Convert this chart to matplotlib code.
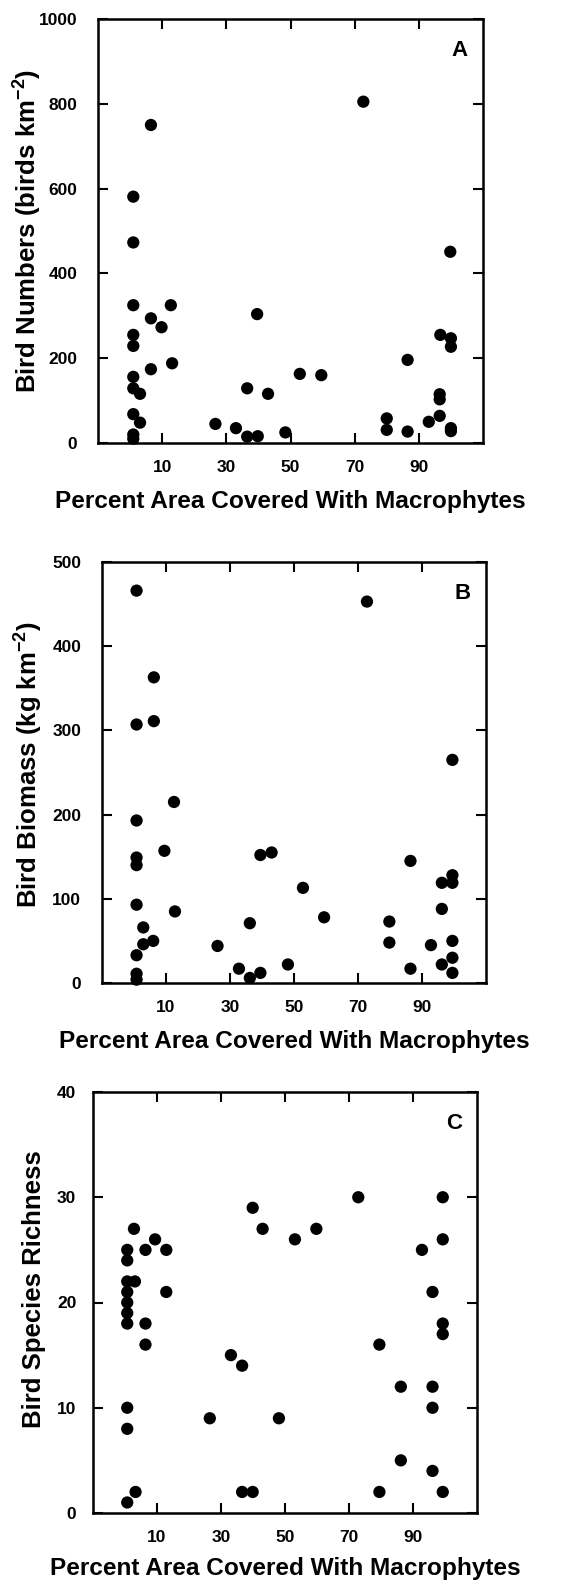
import matplotlib
matplotlib.use("Agg")
import matplotlib.pyplot as plt

plt.rcParams['font.family'] = ['Liberation Sans', 'DejaVu Sans']
plt.rcParams['font.weight'] = 'bold'
plt.rcParams['mathtext.fontset'] = 'custom'
plt.rcParams['mathtext.rm'] = 'Liberation Sans:bold'
plt.rcParams['mathtext.bf'] = 'Liberation Sans:bold'
plt.rcParams['mathtext.it'] = 'Liberation Sans:bold'

# ---- data ----
xticks = [10, 30, 50, 70, 90]
xlabel = "Percent Area Covered With Macrophytes"

a_x = [6.5, 1, 1, 72.7, 99.8, 1, 12.7, 6.5, 9.8, 39.6, 1, 1, 96.7, 100, 100,
       86.5, 13.1, 6.5, 1, 52.9, 59.6, 1, 3.1, 36.5, 43, 96.5, 96.5,
       1, 3.1, 1, 1, 26.6, 33, 36.5, 39.8, 48.4, 80, 80, 86.5, 93.1, 96.5, 100, 100]
a_y = [750, 581, 473, 805, 451, 325, 325, 294, 273, 304, 255, 229, 255, 247, 227,
       196, 188, 174, 156, 163, 160, 129, 116, 129, 116, 115, 103,
       68, 48, 20, 10, 45, 35, 15, 16, 25, 58, 31, 27, 50, 64, 35, 28]
a_yticks = [0, 200, 400, 600, 800, 1000]

b_x = [0.8, 72.8, 6.2, 0.8, 6.2, 99.5, 12.5, 0.8, 0.8, 0.8, 9.5, 39.5, 43, 86.4,
       52.8, 96.2, 99.5, 99.5, 0.8, 96.2, 12.8, 59.4, 36.2, 79.8, 2.9, 2.9, 6.0,
       26.1, 79.8, 92.8, 99.5, 99.5, 0.8, 48.1, 32.8, 86.4, 96.2, 39.5, 36.2,
       0.8, 0.8, 99.5]
b_y = [466, 453, 363, 307, 311, 265, 215, 193, 149, 140, 157, 152, 155, 145,
       113, 119, 128, 119, 93, 88, 85, 78, 71, 73, 66, 46, 50,
       44, 48, 45, 50, 30, 33, 22, 17, 17, 22, 12, 6,
       11, 4, 12]
b_yticks = [0, 100, 200, 300, 400, 500]

c_x = [72.9, 99.3, 39.9, 43, 59.8, 2.8, 53.1, 9.4, 99.3, 0.7, 6.4, 12.9, 92.8,
       0.7, 0.7, 3.1, 0.7, 12.9, 96.1, 0.7, 0.7, 0.7, 6.4, 99.3, 99.3, 6.4, 79.5,
       33.1, 36.6, 86.2, 96.1, 0.7, 96.1, 26.5, 48.1, 0.7, 86.2, 96.1,
       3.3, 36.6, 39.9, 79.5, 99.3, 0.7]
c_y = [30, 30, 29, 27, 27, 27, 26, 26, 26, 25, 25, 25, 25,
       24, 22, 22, 21, 21, 21, 20, 19, 18, 18, 18, 17, 16, 16,
       15, 14, 12, 12, 10, 10, 9, 9, 8, 5, 4,
       2, 2, 2, 2, 2, 1]
c_yticks = [0, 10, 20, 30, 40]

W, H = 587, 1581
fig = plt.figure(figsize=(W / 100, H / 100), dpi=100)

def make_axes(l, r, t, b):
    return fig.add_axes([l / W, 1 - b / H, (r - l) / W, (b - t) / H])

panels = [
    (make_axes(98, 483, 19, 443), a_x, a_y, a_yticks,
     r'Bird Numbers (birds km$^{-2}$)', 'A', 15, (-0.182, 0.50), -0.153),
    (make_axes(102, 486, 562, 983), b_x, b_y, b_yticks,
     r'Bird Biomass (kg km$^{-2}$)', 'B', 15, (-0.19, 0.518), -0.1544),
    (make_axes(93, 477, 1092, 1513), c_x, c_y, c_yticks,
     'Bird Species Richness', 'C', 12, (-0.154, 0.532), -0.147),
]

for ax, xs, ys, yt, ylab, letter, ypad, ylc, xly in panels:
    ax.scatter(xs, ys, s=78, color='black', edgecolors='none', zorder=3, clip_on=False)
    ax.set_xlim(-10, 110)
    ax.set_ylim(yt[0], yt[-1])
    ax.set_xticks(xticks)
    ax.set_yticks(yt)
    ax.tick_params(direction='in', length=7, width=1.5, top=True, right=True,
                   labelsize=12.5)
    ax.tick_params(axis='y', pad=ypad)
    ax.tick_params(axis='x', pad=12)
    for lab in ax.get_xticklabels() + ax.get_yticklabels():
        lab.set_fontweight('bold')
    for sp in ax.spines.values():
        sp.set_linewidth(1.8)
    ax.set_ylabel(ylab, fontsize=18.5, fontweight='bold', va='center',
                  rotation_mode='anchor')
    ax.yaxis.set_label_coords(*ylc)
    ax.set_xlabel(xlabel, fontsize=17.6, fontweight='bold', va='baseline')
    ax.xaxis.set_label_coords(0.5, xly)
    ax.text(0.94, 0.925, letter, transform=ax.transAxes, fontsize=16,
            fontweight='bold', ha='center', va='center')

fig.savefig('out.png', dpi=100)
